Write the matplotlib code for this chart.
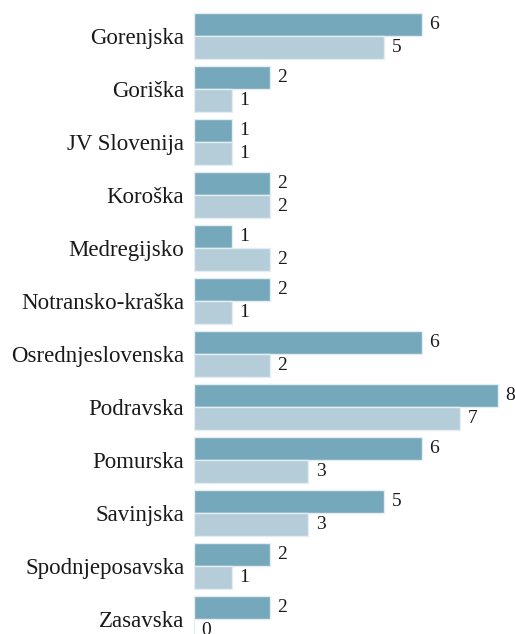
import numpy as np
import matplotlib.pyplot as plt

regions = ["Gorenjska", "Goriška", "JV Slovenija", "Koroška", "Medregijsko",
           "Notransko-kraška", "Osrednjeslovenska", "Podravska", "Pomurska",
           "Savinjska", "Spodnjeposavska", "Zasavska"]
series_a = [6, 2, 1, 2, 1, 2, 6, 8, 6, 5, 2, 2]
series_b = [5, 1, 1, 2, 2, 1, 2, 7, 3, 3, 1, 0]

dark = "#76a8bb"
light = "#b5cdd8"

plt.rcParams['font.family'] = ['Liberation Serif', 'DejaVu Serif']

fig = plt.figure(figsize=(5.15, 6.34), dpi=100)
ax = fig.add_axes([194 / 515, 0, 321 / 515, 1])

y = np.arange(len(regions))
h = 23 / 53

ax.barh(y - h / 2, series_a, height=h, color=dark, edgecolor="#e4eef2", linewidth=1)
ax.barh(y + h / 2, series_b, height=h, color=light, edgecolor="#e4eef2", linewidth=1)

for yi, a, b in zip(y, series_a, series_b):
    ax.text(a + 0.2, yi - h / 2, str(a), va="center", ha="left", fontsize=14, color="#1a1a1a")
    ax.text(b + 0.2, yi + h / 2, str(b), va="center", ha="left", fontsize=14, color="#1a1a1a")

ax.set_xlim(0, 321 / 38)
ax.set_ylim((634 - 36) / 53, -36 / 53)
ax.set_yticks(y)
ax.set_yticklabels(regions, fontsize=16.5, color="#1a1a1a", va="center_baseline")
ax.tick_params(axis="y", length=0, pad=7)
ax.set_xticks([])
for s in ax.spines.values():
    s.set_visible(False)

fig.savefig("out.png", dpi=100)
